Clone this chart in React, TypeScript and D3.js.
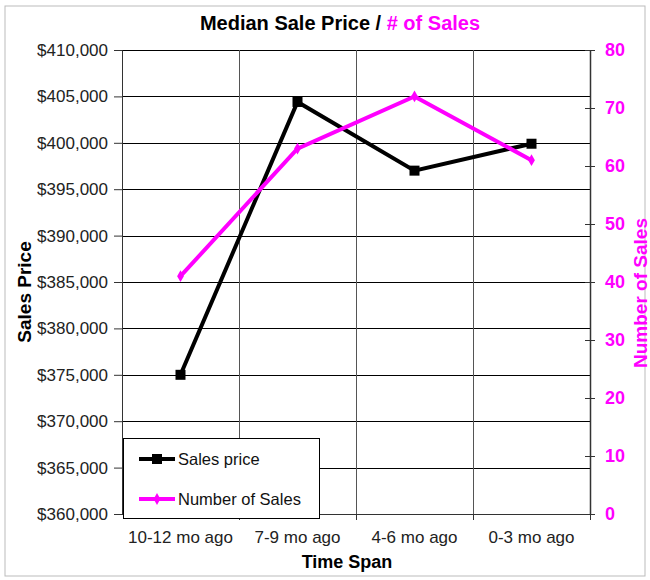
import React, { useRef, useEffect } from "react";
import * as d3 from "d3";

const categories = ["10-12 mo ago", "7-9 mo ago", "4-6 mo ago", "0-3 mo ago"];
const salesPrice = [375000, 404400, 397000, 399900];
const numberOfSales = [41, 63, 72, 61];
const priceTicks = [360000, 365000, 370000, 375000, 380000, 385000, 390000, 395000, 400000, 405000, 410000];
const countTicks = [0, 10, 20, 30, 40, 50, 60, 70, 80];

const FONT = "'Liberation Sans', Arial, sans-serif";
const MAGENTA = "#ff00ff";

const App: React.FC = () => {
  const ref = useRef<SVGSVGElement>(null);

  useEffect(() => {
    const svg = d3.select(ref.current);
    svg.selectAll("*").remove();

    const width = 650,
      height = 580,
      margin = { top: 50, right: 60, bottom: 66, left: 122 };

    // outer chart border
    svg
      .append("rect")
      .attr("x", 5)
      .attr("y", 6)
      .attr("width", 640)
      .attr("height", 570)
      .attr("fill", "#fff")
      .attr("stroke", "#bbb")
      .attr("stroke-width", 1);

    const x = d3
      .scaleBand()
      .domain(categories)
      .range([margin.left, width - margin.right]);

    const yLeft = d3
      .scaleLinear()
      .domain([360000, 410000])
      .range([height - margin.bottom, margin.top]);

    const yRight = d3
      .scaleLinear()
      .domain([0, 80])
      .range([height - margin.bottom, margin.top]);

    // Grid lines
    svg
      .append("g")
      .selectAll("line")
      .data(priceTicks)
      .enter()
      .append("line")
      .attr("x1", margin.left)
      .attr("x2", width - margin.right)
      .attr("y1", (d) => Math.round(yLeft(d)) + 0.5)
      .attr("y2", (d) => Math.round(yLeft(d)) + 0.5)
      .attr("stroke", "#000")
      .attr("stroke-width", 1);

    svg
      .append("g")
      .selectAll("line")
      .data(categories.slice(1))
      .enter()
      .append("line")
      .attr("x1", (d) => Math.round(x(d)!) + 0.5)
      .attr("x2", (d) => Math.round(x(d)!) + 0.5)
      .attr("y1", margin.top)
      .attr("y2", height - margin.bottom)
      .attr("stroke", "#555")
      .attr("stroke-width", 1);

    // Left axis
    const leftAxis = svg
      .append("g")
      .attr("transform", `translate(${margin.left},0)`)
      .call(
        d3
          .axisLeft(yLeft)
          .tickValues(priceTicks)
          .tickSize(8)
          .tickPadding(6)
          .tickFormat((d) => "$" + d3.format(",")(d as number))
      );
    leftAxis.select(".domain").attr("stroke", "#333");
    leftAxis.selectAll("line").attr("stroke", "#333");
    leftAxis
      .selectAll("text")
      .attr("fill", "#222")
      .style("font-family", FONT)
      .style("font-size", "17px");

    // Right axis
    const rightAxis = svg
      .append("g")
      .attr("transform", `translate(${width - margin.right},0)`)
      .call(
        d3
          .axisRight(yRight)
          .tickValues(countTicks)
          .tickSizeInner(5)
          .tickSizeOuter(0)
          .tickPadding(10)
      );
    rightAxis.select(".domain").attr("stroke", "#333").attr("stroke-width", 1.5);
    rightAxis
      .selectAll(".tick line")
      .attr("stroke", "#333")
      .attr("x1", -5)
      .attr("x2", 5);
    rightAxis
      .selectAll("text")
      .attr("fill", MAGENTA)
      .style("font-family", FONT)
      .style("font-weight", "bold")
      .style("font-size", "18px");

    // Bottom axis
    const bottomAxis = svg
      .append("g")
      .attr("transform", `translate(0,${height - margin.bottom})`)
      .call(d3.axisBottom(x).tickSize(0).tickPadding(17));
    bottomAxis.select(".domain").attr("stroke", "#333");
    bottomAxis
      .selectAll("text")
      .attr("fill", "#222")
      .attr("dy", "0")
      .style("font-family", FONT)
      .style("font-size", "17px");
    bottomAxis
      .append("g")
      .selectAll("line")
      .data(categories)
      .enter()
      .append("line")
      .attr("x1", (d) => Math.round(x(d)! + x.bandwidth()) + 0.5)
      .attr("x2", (d) => Math.round(x(d)! + x.bandwidth()) + 0.5)
      .attr("y1", 0)
      .attr("y2", 6)
      .attr("stroke", "#333");
    bottomAxis.selectAll(".tick text").attr("y", 29);

    const cx = (d: string) => x(d)! + x.bandwidth() / 2;

    // Sales price line
    const priceLine = d3
      .line<number>()
      .x((_, i) => cx(categories[i]))
      .y((d) => yLeft(d));

    svg
      .append("path")
      .datum(salesPrice)
      .attr("fill", "none")
      .attr("stroke", "#000")
      .attr("stroke-width", 4)
      .attr("d", priceLine);

    svg
      .append("g")
      .selectAll("rect")
      .data(salesPrice)
      .enter()
      .append("rect")
      .attr("x", (_, i) => cx(categories[i]) - 5)
      .attr("y", (d) => yLeft(d) - 5)
      .attr("width", 10)
      .attr("height", 10)
      .attr("fill", "#000");

    // Number of sales line
    const countLine = d3
      .line<number>()
      .x((_, i) => cx(categories[i]))
      .y((d) => yRight(d));

    svg
      .append("path")
      .datum(numberOfSales)
      .attr("fill", "none")
      .attr("stroke", MAGENTA)
      .attr("stroke-width", 4)
      .attr("d", countLine);

    const diamond = d3.symbol().type(d3.symbolDiamond).size(40);
    svg
      .append("g")
      .selectAll("path")
      .data(numberOfSales)
      .enter()
      .append("path")
      .attr("transform", (d, i) => `translate(${cx(categories[i])},${yRight(d)})`)
      .attr("d", diamond)
      .attr("fill", MAGENTA);

    // Legend
    const legend = svg.append("g").attr("transform", "translate(123,438)");
    legend
      .append("rect")
      .attr("x", 0.5)
      .attr("y", 0.5)
      .attr("width", 196)
      .attr("height", 80)
      .attr("fill", "#fff")
      .attr("stroke", "#000");

    const items = [
      { name: "Sales price", color: "#000", y: 21 },
      { name: "Number of Sales", color: MAGENTA, y: 61 },
    ];
    items.forEach((it, idx) => {
      legend
        .append("line")
        .attr("x1", 16)
        .attr("x2", 52)
        .attr("y1", it.y)
        .attr("y2", it.y)
        .attr("stroke", it.color)
        .attr("stroke-width", 4);
      if (idx === 0) {
        legend
          .append("rect")
          .attr("x", 29)
          .attr("y", it.y - 5)
          .attr("width", 10)
          .attr("height", 10)
          .attr("fill", it.color);
      } else {
        legend
          .append("path")
          .attr("transform", `translate(34,${it.y})`)
          .attr("d", diamond)
          .attr("fill", it.color);
      }
      legend
        .append("text")
        .attr("x", 55)
        .attr("y", it.y + 6)
        .style("font-family", FONT)
        .style("font-size", "16.5px")
        .attr("fill", "#111")
        .text(it.name);
    });

    // Title
    const title = svg
      .append("text")
      .attr("x", 340)
      .attr("y", 30)
      .attr("text-anchor", "middle")
      .style("font-family", FONT)
      .style("font-weight", "bold")
      .style("font-size", "20px");
    title.append("tspan").attr("fill", "#000").text("Median Sale Price / ");
    title.append("tspan").attr("fill", MAGENTA).text("# of Sales");

    // Axis titles
    svg
      .append("text")
      .attr("transform", "translate(31,292) rotate(-90)")
      .attr("text-anchor", "middle")
      .style("font-family", FONT)
      .style("font-weight", "bold")
      .style("font-size", "19px")
      .attr("fill", "#000")
      .text("Sales Price");

    svg
      .append("text")
      .attr("transform", "translate(647,293) rotate(-90)")
      .attr("text-anchor", "middle")
      .style("font-family", FONT)
      .style("font-weight", "bold")
      .style("font-size", "19px")
      .attr("fill", MAGENTA)
      .text("Number of Sales");

    svg
      .append("text")
      .attr("x", 347)
      .attr("y", 568)
      .attr("text-anchor", "middle")
      .style("font-family", FONT)
      .style("font-weight", "bold")
      .style("font-size", "18px")
      .attr("fill", "#000")
      .text("Time Span");
  }, []);

  return (
    <svg
      ref={ref}
      width={650}
      height={580}
      style={{ position: "absolute", left: 0, top: 0, background: "#fff" }}
    />
  );
};

export default App;
